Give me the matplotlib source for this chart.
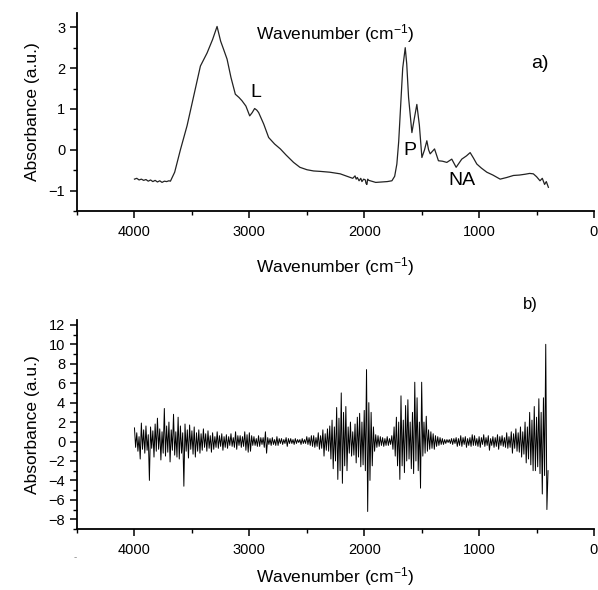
import numpy as np
import matplotlib
matplotlib.use("Agg")
import matplotlib.pyplot as plt
from matplotlib.ticker import MultipleLocator

plt.rcParams['font.family'] = ['Liberation Sans', 'DejaVu Sans']
plt.rcParams['mathtext.fontset'] = 'custom'
plt.rcParams['mathtext.rm'] = 'Liberation Sans'
plt.rcParams['mathtext.it'] = 'Liberation Sans:italic'
plt.rcParams['mathtext.default'] = 'regular'

# ---- panel a) FTIR absorbance spectrum ----
wn_a = [4000, 3980, 3960, 3940, 3920, 3900, 3880, 3860, 3840, 3820, 3800, 3780, 3760,
        3740, 3720, 3700, 3687, 3650, 3600, 3542, 3480, 3426, 3368, 3320, 3281, 3250,
        3223, 3194, 3160, 3122, 3090, 3064, 3030, 2997, 2975, 2954, 2935, 2919, 2875,
        2832, 2780, 2730, 2680, 2615, 2560, 2498, 2440, 2383, 2300, 2209, 2150, 2100,
        2080, 2070, 2060, 2045, 2030, 2020, 2005, 1990, 1985, 1977, 1970, 1960, 1900,
        1850, 1800, 1759, 1735, 1716, 1700, 1687,
        1665, 1643, 1630, 1614, 1585, 1565, 1542, 1520, 1498, 1475, 1455, 1440, 1426,
        1388, 1354, 1320, 1281, 1238, 1200, 1151, 1110, 1078, 1050, 1020, 980, 933,
        880, 817, 760, 701, 650, 600, 560, 528, 500, 470, 450, 430, 415, 397]
abs_a = [-0.72, -0.70, -0.74, -0.72, -0.75, -0.73, -0.77, -0.74, -0.78, -0.75, -0.79,
         -0.76, -0.80, -0.77, -0.78, -0.76, -0.77, -0.55, 0.00, 0.59, 1.37, 2.05, 2.37,
         2.70, 3.02, 2.66, 2.45, 2.22, 1.77, 1.36, 1.28, 1.20, 1.07, 0.83, 0.91, 1.01,
         0.97, 0.91, 0.63, 0.30, 0.14, 0.02, -0.13, -0.31, -0.43, -0.49, -0.52, -0.53,
         -0.55, -0.59, -0.65, -0.70,
         -0.64, -0.72, -0.68, -0.76, -0.70, -0.78, -0.72, -0.74, -0.82, -0.85, -0.72, -0.75,
         -0.80, -0.79, -0.78, -0.76, -0.65, -0.35, 0.20, 0.87, 2.00, 2.50, 2.10, 1.28,
         0.42, 0.75, 1.11, 0.60, -0.19, 0.00, 0.22, 0.00, -0.10, 0.02, -0.27, -0.28,
         -0.31, -0.23, -0.43, -0.23, -0.15, -0.07, -0.20, -0.35, -0.45, -0.55, -0.62,
         -0.72, -0.68, -0.63, -0.62, -0.60, -0.58, -0.59, -0.66, -0.76, -0.70, -0.85,
         -0.78, -0.92]

# ---- panel b) difference / noise spectrum (10 cm-1 sampling, 4000 -> 400) ----
wn_b_start, wn_b_stop, wn_b_step = 4000, 400, 10
abs_b = [
    1.4, -0.6, 0.9, -1.0, 0.5, -1.8, 1.9, -0.8, 1.2, -1.2, 1.6, -0.9, 0.7, -4.0, 1.5, -0.7, 1.1, -1.6, 1.8, -1.0,   # 4000-3810
    2.4, -0.8, 1.3, -1.9, 1.0, -1.2, 3.4, -1.5, 1.6, -1.1, 2.0, -2.1, 1.2, -0.9, 2.8, -1.4, 1.0, -1.6, 2.5, -1.8,   # 3800-3610
    1.6, -1.2, 0.9, -4.6, 1.8, -1.0, 1.2, -1.7, 1.7, -0.8, 1.1, -1.3, 1.5, -1.6, 0.9, -1.0, 1.2, -1.2, 0.8, -0.9,   # 3600-3410
    1.3, -0.6, 0.8, -1.0, 1.1, -0.7, 0.6, -1.1, 0.9, -0.8, 0.5, -0.6, 1.0, -0.7, 0.6, -0.5, 0.8, -0.9, 0.5, -0.6,   # 3400-3210
    0.7, -0.7, 0.5, -0.4, 0.8, -0.5, 0.4, -0.6, 1.0, -0.8, 0.6, -0.4, 0.6, -0.6, 0.5, -0.5, 1.0, -0.9, 0.7, -1.1,   # 3200-3010
    0.9, -1.0, 0.6, -0.4, 0.5, -0.4, 0.3, -0.5, 0.6, -0.5, 0.4, -0.3, 0.4, -0.6, 1.0, -1.2, 0.4, -0.3, 0.3, -0.4,   # 3000-2810
    0.4, -0.3, 0.2, -0.4, 0.5, -0.4, 0.3, -0.2, 0.3, -0.3, 0.2, -0.2, 0.4, -0.5, 0.3, -0.2, 0.3, -0.2, 0.2, -0.3,   # 2800-2610
    0.3, -0.2, 0.2, -0.1, 0.2, -0.3, 0.3, -0.2, 0.2, -0.2, 0.5, -0.3, 0.4, -0.4, 0.6, -0.5, 0.6, -0.6, 0.4, -0.5,   # 2600-2410
    0.9, -0.8, 0.6, -0.7, 1.2, -1.5, 0.8, -0.9, 1.3, -1.0, 1.6, -1.8, 2.2, -2.8, 1.5, -2.0, 3.5, -3.9, 2.4, -3.0,   # 2400-2210
    5.0, -4.3, 3.0, -2.5, 3.6, -3.0, 1.5, -1.2, 2.0, -1.5, 1.0, -1.4, 1.8, -2.2, 2.5, -1.6, 2.9, -2.6, 2.0, -2.4,   # 2200-2010
    3.2, -3.0, 7.4, -7.2, 4.0, -4.0, 3.0, -2.5, 1.5, -1.0, 0.7, -0.6, 0.6, -0.5, 0.5, -0.4, 0.4, -0.5, 0.3, -0.4,   # 2000-1810
    0.5, -0.4, 0.3, -0.3, 0.6, -0.8, 1.5, -1.5, 2.5, -2.5, 2.0, -3.9, 4.7, -2.5, 2.2, -3.2, 3.7, -2.0, 4.3, -1.8,   # 1800-1610
    2.0, -2.8, 3.0, -3.3, 6.1, -2.0, 4.5, -3.0, 2.0, -4.8, 6.1, -1.5, 2.0, -1.2, 2.6, -1.0, 1.2, -0.8, 1.0, -0.7,   # 1600-1410
    0.8, -0.8, 0.6, -0.5, 0.5, -0.4, 0.4, -0.3, 0.3, -0.3, 0.2, -0.2, 0.2, -0.1, 0.2, -0.2, 0.3, -0.3, 0.3, -0.2,   # 1400-1210
    0.4, -0.5, 0.3, -0.4, 0.6, -0.5, 0.4, -0.3, 0.5, -0.6, 0.3, -0.4, 0.4, -0.5, 0.7, -0.4, 0.6, -0.4, 0.3, -0.5,   # 1200-1010
    0.5, -0.6, 0.4, -0.3, 0.7, -0.5, 0.4, -0.4, 0.6, -0.9, 0.3, -0.4, 0.5, -0.6, 0.4, -0.5, 0.7, -0.8, 0.5, -0.4,   # 1000-810
    0.6, -0.5, 0.4, -0.6, 0.9, -0.7, 0.5, -0.6, 1.0, -1.2, 0.8, -0.7, 1.3, -1.0, 0.9, -1.1, 1.5, -1.6, 1.0, -1.3,   # 800-610
    2.0, -2.2, 1.5, -1.8, 3.0, -2.4, 2.2, -3.0, 3.6, -3.0, 2.5, -2.6, 4.4, -3.3, 3.0, -5.4, 4.5, -3.5, 10.0, -7.0,  # 600-410
    -3.0,                                                                                                            # 400
]
wn_b = np.arange(wn_b_start, wn_b_stop - 1, -wn_b_step)

xlabel = "Wavenumber (cm$^{-1}$)"
ylabel = "Absorbance (a.u.)"

fig = plt.figure(figsize=(5.98, 5.90), dpi=100)
ax1 = fig.add_axes([0.1288, 0.6424, 0.8645, 0.3356])
ax2 = fig.add_axes([0.1288, 0.1034, 0.8645, 0.3542])

ax1.plot(wn_a, abs_a, color='#222222', lw=0.9)
ax2.plot(wn_b, abs_b, color='black', lw=0.7)

for ax, lp in ((ax1, 12), (ax2, 6)):
    ax.set_xlim(4500, 0)
    ax.xaxis.set_major_locator(MultipleLocator(1000))
    ax.xaxis.set_minor_locator(MultipleLocator(500))
    for s in ('top', 'right'):
        ax.spines[s].set_visible(False)
    for s in ('left', 'bottom'):
        ax.spines[s].set_linewidth(1.3)
    ax.tick_params(which='major', direction='out', length=5, width=1.1, labelsize=10.5)
    ax.tick_params(which='minor', direction='out', length=3, width=1.0)
    ax.tick_params(axis='x', pad=5)
    ax.set_xlabel(xlabel, fontsize=12.5, labelpad=lp)
    ax.set_ylabel(ylabel, fontsize=12.5, labelpad=6)

ax1.set_ylim(-1.5, 3.35)
ax1.yaxis.set_major_locator(MultipleLocator(1))
ax1.yaxis.set_minor_locator(MultipleLocator(0.5))

ax2.set_ylim(-9, 12.5)
ax2.yaxis.set_major_locator(MultipleLocator(2))
ax2.yaxis.set_minor_locator(MultipleLocator(1))

ax1.text(2252, 2.85, xlabel, fontsize=12.5, ha='center', va='center')
ax1.text(2948, 1.39, "L", fontsize=14, ha='center', va='center')
ax1.text(1600, -0.02, "P", fontsize=14, ha='center', va='center')
ax1.text(1148, -0.76, "NA", fontsize=14, ha='center', va='center')
ax1.text(470, 2.12, "a)", fontsize=14, ha='center', va='center')
fig.text(530 / 598, 1 - 304 / 590, "b)", fontsize=12, ha='center', va='center')
fig.text(75 / 598, 1 - 557 / 590, "-", fontsize=7, color='#888888', ha='center', va='center')

fig.savefig("out.png", dpi=100)
